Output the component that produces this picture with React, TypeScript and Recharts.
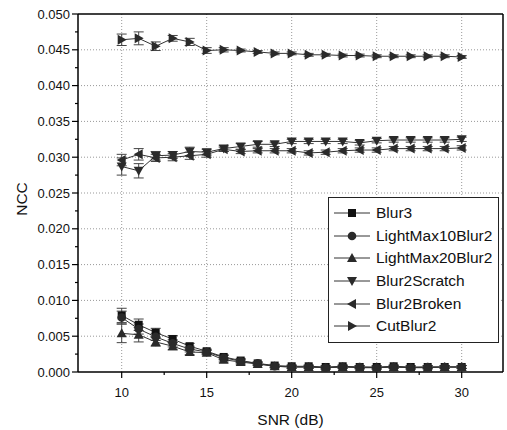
import React from "react";
import { LineChart, Line, XAxis, YAxis, ReferenceLine, ErrorBar } from "recharts";

const FONT = '"Liberation Sans", Arial, sans-serif';

const snr = [10, 11, 12, 13, 14, 15, 16, 17, 18, 19, 20, 21, 22, 23, 24, 25, 26, 27, 28, 29, 30];

const blur3 = [0.0079, 0.0066, 0.0055, 0.0046, 0.0036, 0.0029, 0.0021, 0.0016, 0.0012, 0.0009, 0.0008, 0.0008, 0.0007, 0.0008, 0.0007, 0.0007, 0.0008, 0.0007, 0.0007, 0.0007, 0.0007];
const blur3Err = [0.001, 0.0008, 0.0006, 0.0005, 0.0004, 0.0003, 0.0003, 0.0003, 0.0002, 0.0002, 0.0002, 0.0002, 0.0002, 0.0002, 0.0002, 0.0002, 0.0002, 0.0002, 0.0002, 0.0002, 0.0002];

const lightMax10 = [0.0076, 0.006, 0.0049, 0.004, 0.0032, 0.0028, 0.002, 0.0015, 0.0012, 0.0008, 0.0007, 0.0007, 0.0006, 0.0007, 0.0007, 0.0006, 0.0007, 0.0006, 0.0007, 0.0007, 0.0007];
const lightMax10Err = [0.0009, 0.0007, 0.0005, 0.0005, 0.0004, 0.0003, 0.0003, 0.0002, 0.0002, 0.0002, 0.0002, 0.0002, 0.0002, 0.0002, 0.0002, 0.0002, 0.0002, 0.0002, 0.0002, 0.0002, 0.0002];

const lightMax20 = [0.0054, 0.0052, 0.0042, 0.0036, 0.0028, 0.0027, 0.0017, 0.0014, 0.0011, 0.0008, 0.0007, 0.0007, 0.0006, 0.0007, 0.0006, 0.0006, 0.0007, 0.0006, 0.0006, 0.0007, 0.0007];
const lightMax20Err = [0.0013, 0.001, 0.0006, 0.0005, 0.0004, 0.0003, 0.0003, 0.0003, 0.0002, 0.0002, 0.0002, 0.0002, 0.0002, 0.0002, 0.0002, 0.0002, 0.0002, 0.0002, 0.0002, 0.0002, 0.0002];

const scratch = [0.0287, 0.0281, 0.0302, 0.0303, 0.0308, 0.0307, 0.0312, 0.0315, 0.0318, 0.0318, 0.0322, 0.0322, 0.0322, 0.0322, 0.032, 0.0323, 0.0324, 0.0324, 0.0324, 0.0324, 0.0325];
const scratchErr = [0.0012, 0.001, 0.0006, 0.0005, 0.0006, 0.0004, 0.0004, 0.0004, 0.0004, 0.0003, 0.0003, 0.0003, 0.0003, 0.0003, 0.0003, 0.0003, 0.0003, 0.0003, 0.0003, 0.0003, 0.0003];

const broken = [0.0296, 0.0304, 0.0299, 0.03, 0.0302, 0.0304, 0.0311, 0.0308, 0.0309, 0.0309, 0.0309, 0.0306, 0.0307, 0.0309, 0.031, 0.031, 0.0312, 0.0312, 0.0312, 0.0312, 0.0313];
const brokenErr = [0.0008, 0.0008, 0.0005, 0.0005, 0.0005, 0.0004, 0.0003, 0.0003, 0.0003, 0.0003, 0.0003, 0.0003, 0.0003, 0.0003, 0.0003, 0.0003, 0.0003, 0.0003, 0.0003, 0.0003, 0.0003];

const cutBlur2 = [0.0464, 0.0466, 0.0455, 0.0466, 0.0461, 0.0449, 0.045, 0.0449, 0.0447, 0.0445, 0.0445, 0.0443, 0.0443, 0.0442, 0.0442, 0.0441, 0.0441, 0.0441, 0.0441, 0.0441, 0.044];
const cutBlur2Err = [0.0008, 0.0009, 0.0006, 0.0004, 0.0005, 0.0004, 0.0003, 0.0002, 0.0002, 0.0002, 0.0002, 0.0002, 0.0002, 0.0002, 0.0002, 0.0002, 0.0002, 0.0002, 0.0002, 0.0002, 0.0002];

const xTicks = [10, 12.5, 15, 17.5, 20, 22.5, 25, 27.5, 30];
const xGrid = [10, 15, 20, 25, 30];
const yTicks = [0, 0.0025, 0.005, 0.0075, 0.01, 0.0125, 0.015, 0.0175, 0.02, 0.0225, 0.025, 0.0275, 0.03, 0.0325, 0.035, 0.0375, 0.04, 0.0425, 0.045, 0.0475, 0.05];
const yGrid = [0.005, 0.01, 0.015, 0.02, 0.025, 0.03, 0.035, 0.04, 0.045];

const series = [
  { key: "blur3", name: "Blur3", shape: "square", values: blur3, errs: blur3Err },
  { key: "lm10", name: "LightMax10Blur2", shape: "circle", values: lightMax10, errs: lightMax10Err },
  { key: "lm20", name: "LightMax20Blur2", shape: "up", values: lightMax20, errs: lightMax20Err },
  { key: "scratch", name: "Blur2Scratch", shape: "down", values: scratch, errs: scratchErr },
  { key: "broken", name: "Blur2Broken", shape: "left", values: broken, errs: brokenErr },
  { key: "cut", name: "CutBlur2", shape: "right", values: cutBlur2, errs: cutBlur2Err },
];

const data = snr.map((x, i) => {
  const row: any = { x };
  series.forEach((s) => {
    row[s.key] = s.values[i];
    row[s.key + "Err"] = s.errs[i];
  });
  return row;
});

function Marker({ cx, cy, shape }: { cx: number; cy: number; shape: string }) {
  const fill = "#2a2a2a";
  if (shape === "square") return <rect x={cx - 4} y={cy - 4} width={8} height={8} fill="#111" />;
  if (shape === "circle") return <circle cx={cx} cy={cy} r={4.3} fill={fill} />;
  let pts = "";
  if (shape === "up") pts = `${cx},${cy - 5} ${cx - 5},${cy + 4} ${cx + 5},${cy + 4}`;
  if (shape === "down") pts = `${cx},${cy + 5} ${cx - 5},${cy - 4} ${cx + 5},${cy - 4}`;
  if (shape === "left") pts = `${cx - 5},${cy} ${cx + 4},${cy - 5} ${cx + 4},${cy + 5}`;
  if (shape === "right") pts = `${cx + 5},${cy} ${cx - 4},${cy - 5} ${cx - 4},${cy + 5}`;
  return <polygon points={pts} fill={fill} />;
}

const XTick = ({ x, y, payload }: any) => {
  const major = payload.value % 5 === 0;
  return (
    <g>
      <line x1={x} y1={y} x2={x} y2={y + (major ? 6 : 3)} stroke="#000" strokeWidth={1.2} />
      {major && (
        <text x={x} y={y + 25} textAnchor="middle" fontSize={13} fontFamily={FONT} fill="#111">
          {payload.value}
        </text>
      )}
    </g>
  );
};

const YTick = ({ x, y, payload }: any) => {
  const major = Math.round(payload.value * 10000) % 50 === 0;
  return (
    <g>
      <line x1={x} y1={y} x2={x - (major ? 6 : 3)} y2={y} stroke="#000" strokeWidth={1.2} />
      {major && (
        <text x={x - 8} y={y + 4.5} textAnchor="end" fontSize={13} fontFamily={FONT} fill="#111">
          {payload.value.toFixed(3)}
        </text>
      )}
    </g>
  );
};

const LegendBox = () => (
  <div
    style={{
      position: "absolute",
      left: 328,
      top: 197,
      border: "1px solid #222",
      background: "#fff",
      padding: "4px 0 4px 5px",
      width: 164,
      fontFamily: FONT,
      fontSize: 15.5,
      color: "#111",
      boxSizing: "content-box",
    }}
  >
    {series.map((s) => (
      <div key={s.key} style={{ display: "flex", alignItems: "center", height: 22.6, whiteSpace: "nowrap" }}>
        <svg width={36} height={14} style={{ marginRight: 6, flexShrink: 0 }}>
          <line x1={0} y1={7} x2={36} y2={7} stroke="#333" strokeWidth={1} />
          <Marker cx={18} cy={7} shape={s.shape} />
        </svg>
        <span>{s.name}</span>
      </div>
    ))}
  </div>
);

export default function App() {
  return (
    <div style={{ position: "absolute", left: 0, top: 0, width: 507, height: 430, background: "#fff" }}>
      <LineChart width={507} height={430} data={data} margin={{ top: 14, right: 4, left: 0, bottom: 0 }}>
        <XAxis
          dataKey="x"
          type="number"
          domain={[7.43, 32.43]}
          allowDataOverflow
          ticks={xTicks}
          interval={0}
          height={58}
          tickSize={0}
          tickMargin={0}
          tickLine={false}
          tick={<XTick />}
          axisLine={{ stroke: "#000", strokeWidth: 1.5 }}
          label={{
            content: ({ viewBox }: any) => (
              <text
                x={viewBox.x + viewBox.width / 2}
                y={viewBox.y + 53}
                textAnchor="middle"
                fontSize={15.5}
                fontFamily={FONT}
                fill="#111"
              >
                SNR (dB)
              </text>
            ),
          }}
        />
        <YAxis
          type="number"
          domain={[0, 0.05]}
          allowDataOverflow
          ticks={yTicks}
          interval={0}
          width={78}
          tickSize={0}
          tickMargin={0}
          tickLine={false}
          tick={<YTick />}
          axisLine={{ stroke: "#000", strokeWidth: 1.5 }}
          label={{
            content: ({ viewBox }: any) => {
              const cx = 27;
              const cy = viewBox.y + viewBox.height / 2 + 6;
              return (
                <text
                  x={cx}
                  y={cy}
                  transform={`rotate(-90 ${cx} ${cy})`}
                  textAnchor="middle"
                  fontSize={15.5}
                  fontFamily={FONT}
                  fill="#111"
                >
                  NCC
                </text>
              );
            },
          }}
        />
        {xGrid.map((v) => (
          <ReferenceLine key={"gx" + v} x={v} stroke="#999" strokeDasharray="1 2" />
        ))}
        {yGrid.map((v) => (
          <ReferenceLine key={"gy" + v} y={v} stroke="#999" strokeDasharray="1 2" />
        ))}
        <ReferenceLine y={0.05} stroke="#000" strokeWidth={1.5} />
        <ReferenceLine x={32.43} stroke="#000" strokeWidth={1.5} />
        {series.map((s) => (
          <Line
            key={s.key}
            dataKey={s.key}
            name={s.name}
            stroke="#333"
            strokeWidth={1}
            isAnimationActive={false}
            dot={(p: any) => <Marker key={s.key + p.index} cx={p.cx} cy={p.cy} shape={s.shape} />}
          >
            <ErrorBar dataKey={s.key + "Err"} width={5} strokeWidth={1} stroke="#444" direction="y" />
          </Line>
        ))}
      </LineChart>
      <LegendBox />
    </div>
  );
}
